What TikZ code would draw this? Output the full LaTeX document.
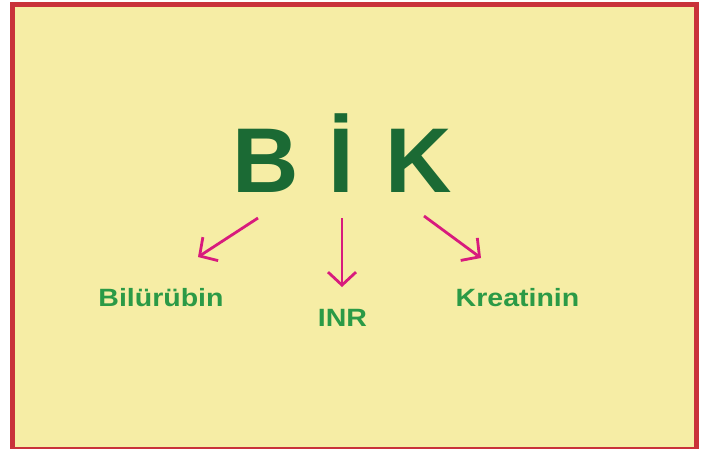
\documentclass[tikz,border=0pt]{standalone}
\usepackage{fontspec}
\setmainfont{Liberation Sans}
\usetikzlibrary{arrows.meta}
\definecolor{bg}{HTML}{F6EDA5}
\definecolor{frame}{HTML}{C9323A}
\definecolor{darkg}{HTML}{1B6A34}
\definecolor{lightg}{HTML}{2B9A46}
\definecolor{mag}{HTML}{D81B7D}
\tikzset{
  big/.style={inner sep=0pt, anchor=base, text=darkg, font=\fontsize{92}{92}\selectfont\bfseries},
  lbl/.style={inner sep=0pt, anchor=base, text=lightg, font=\fontsize{25}{25}\selectfont\bfseries, xscale=1.14},
  arr/.style={draw=mag, line width=2.8pt, -{Straight Barb[length=13pt,width=28pt,line width=2.8pt]}}
}
\begin{document}
\begin{tikzpicture}[x=1pt,y=-1pt]
\useasboundingbox (0,0) rectangle (710,448);
\fill[white] (0,0) rectangle (710,448);
\draw[frame, fill=bg, line width=4.5pt] (12.25,4.25) rectangle (696.25,449.5);
\node[big] (b) at (266,192) {B};
\node[big] (i) at (341.5,192) {İ};
\node[big] (k) at (419,192) {K};
\node[lbl] (bil) at (161,306) {Bilürübin};
\node[lbl] (inr) at (342.5,326) {INR};
\node[lbl] (kre) at (517.5,306) {Kreatinin};
\coordinate (s1) at (258,218);
\coordinate (e1) at (198,257);
\coordinate (s2) at (342,218);
\coordinate (e2) at (342,287);
\coordinate (s3) at (424,216);
\coordinate (e3) at (481,258);
\draw[arr] (s1) -- (e1);
\draw[arr] (s2) -- (e2);
\draw[arr] (s3) -- (e3);
\end{tikzpicture}
\end{document}
